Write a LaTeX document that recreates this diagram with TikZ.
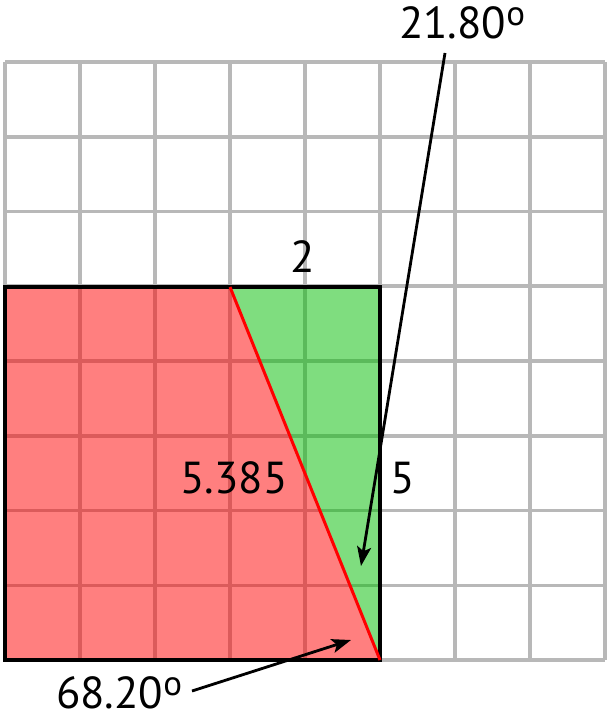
\documentclass[tikz,border=0pt]{standalone}
\usepackage{fontspec}
\setmainfont{PT Sans}
\usetikzlibrary{arrows.meta}
\definecolor{gridgrey}{RGB}{184,184,184}
\definecolor{greenfill}{RGB}{0,188,0}
\newcommand\dego{\raisebox{0.3em}{\scalebox{0.78}{o}}}
\begin{document}
\begin{tikzpicture}[x=0.02cm,y=-0.02cm,
  gridline/.style={draw=gridgrey,line width=2pt},
  lbl/.style={font=\fontsize{25.5}{30}\selectfont,inner sep=0pt,text=black,text height=18pt,text depth=0pt},
  ptr/.style={draw=black,line width=1.6pt,-{Stealth[length=11pt,width=8pt,inset=2.5pt]}}]
\useasboundingbox (0,0) rectangle (606,720);
% grid
\foreach \i in {0,...,8} \draw[gridline] (5+75*\i,62) -- (5+75*\i,660);
\foreach \j in {0,...,8} \draw[gridline] (5,62+74.75*\j) -- (605,62+74.75*\j);
% corners
\coordinate (tl) at (5,287);
\coordinate (tm) at (230,287);
\coordinate (tr) at (380,287);
\coordinate (br) at (380,660);
\coordinate (bl) at (5,660);
% fills
\fill[red,opacity=0.5] (tl) -- (tm) -- (br) -- (bl) -- cycle;
\fill[greenfill,opacity=0.5] (tm) -- (tr) -- (br) -- cycle;
% border and hypotenuse
\draw[black,line width=2pt] (tl) rectangle (br);
\draw[red,line width=1.7pt] (tm) -- (br);
% labels
\node[lbl] (top) at (303,257) {2};
\node[lbl] (hyp) at (234,478) {5.385};
\node[lbl] (side) at (403,478) {5};
\node[lbl] (ang1) at (462,23) {21.80\dego};
\node[lbl] (ang2) at (119,693) {68.20\dego};
% arrows
\coordinate (a1s) at (445,53);
\coordinate (a1e) at (361,566);
\coordinate (a2s) at (192,691);
\coordinate (a2e) at (351,640);
\draw[ptr] (a1s) -- (a1e);
\draw[ptr] (a2s) -- (a2e);
\end{tikzpicture}
\end{document}
